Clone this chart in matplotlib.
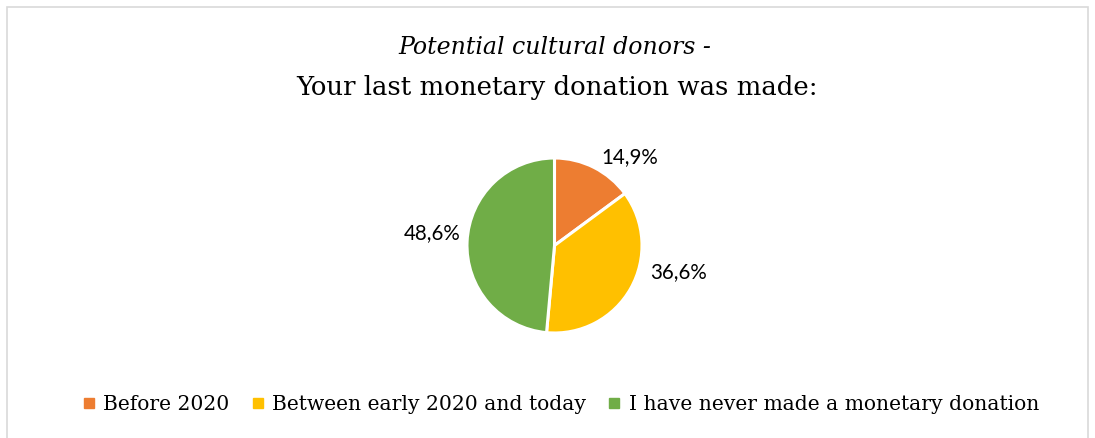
import matplotlib
matplotlib.use("Agg")
import matplotlib.pyplot as plt
from matplotlib.patches import Rectangle
from matplotlib.lines import Line2D

categories = ["Before 2020", "Between early 2020 and today", "I have never made a monetary donation"]
shares = [14.9, 36.6, 48.6]
value_labels = ["14,9%", "36,6%", "48,6%"]
colors = ["#ED7D31", "#FFC000", "#70AD47"]

W, H = 1095, 438
fig = plt.figure(figsize=(W / 100, H / 100), dpi=100)
fig.patch.set_facecolor("white")

# chart frame
fig.patches.append(Rectangle((7 / W, -0.05), (1088 - 7) / W, (H - 7) / H + 0.05,
                             transform=fig.transFigure, fill=False,
                             edgecolor="#D9D9D9", linewidth=1.2))

serif = ["DejaVu Serif"]
fig.text(555 / W, 1 - 47 / H, "Potential cultural donors -", ha="center", va="center",
         fontsize=17, style="italic", family=serif, color="#000000")
fig.text(557 / W, 1 - 88 / H, "Your last monetary donation was made:", ha="center",
         va="center", fontsize=18.7, family=serif, color="#000000")

# pie: centre (554.5, 245.5), radius 87.5 px
r = 87.5
cx, cy = 554.5, 245.5
ax = fig.add_axes([(cx - r) / W, 1 - (cy + r) / H, 2 * r / W, 2 * r / H])
wedges, _ = ax.pie(shares, colors=colors, startangle=90, counterclock=False,
                   wedgeprops=dict(edgecolor="white", linewidth=2.2))
ax.set_xlim(-1, 1)
ax.set_ylim(-1, 1)
ax.set_aspect("auto")
ax.axis("off")

label_pos = [(630, 157), (679, 272), (432, 233)]
for txt, (x, y) in zip(value_labels, label_pos):
    fig.text(x / W, 1 - y / H, txt, ha="center", va="center", fontsize=14.8,
             family=["Lato", "DejaVu Sans"], color="#000000")

handles = [Line2D([], [], linestyle="none", marker="s", markersize=7,
                  markerfacecolor=c, markeredgecolor=c) for c in colors]
fig.legend(handles, categories, loc="center", bbox_to_anchor=(560 / W, 1 - 405 / H),
           ncol=3, frameon=False, handletextpad=0.3, columnspacing=1.0,
           handlelength=0.8, prop=dict(family=serif, size=14.6))

fig.savefig("out.png", dpi=100)
